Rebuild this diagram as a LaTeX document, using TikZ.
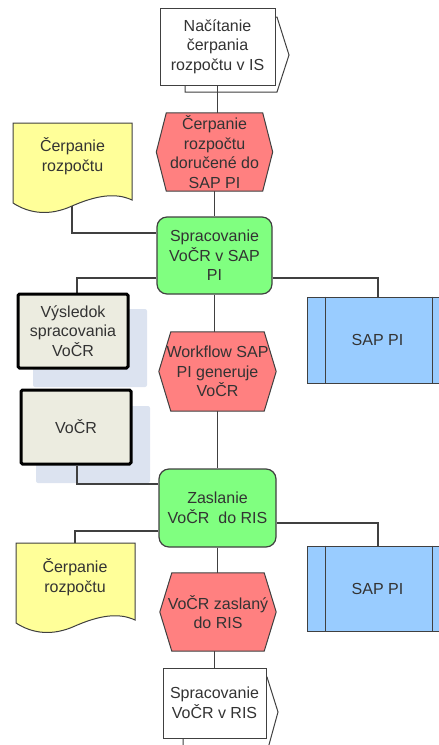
\documentclass[tikz,border=0pt]{standalone}
\usepackage{fontspec}
\setmainfont{Liberation Sans}
\usetikzlibrary{backgrounds}
\definecolor{gfill}{HTML}{80FF80}
\definecolor{rfill}{HTML}{FF8080}
\definecolor{yfill}{HTML}{FFFF99}
\definecolor{bfill}{HTML}{99CCFF}
\definecolor{beige}{HTML}{ECECE0}
\definecolor{shad}{HTML}{DCE3F0}
\definecolor{bord}{HTML}{404040}
\definecolor{txt}{HTML}{333333}
\begin{document}
\begin{tikzpicture}[x=1pt,y=-1pt,
  every node/.style={font=\fontsize{16}{19.5}\selectfont, text=txt, align=center, inner sep=0pt},
  func/.style={draw=bord, line width=1.2pt, fill=gfill, rounded corners=10pt, minimum width=115pt, minimum height=77pt},
  evt/.style={minimum width=116pt, minimum height=78pt},
  hexst/.style={draw=bord, line width=1pt, fill=rfill},
  docst/.style={draw=bord, line width=1pt, fill=yfill},
  iface/.style={draw=bord, line width=1pt, fill=white},
  datbox/.style={draw=black, line width=3pt, fill=beige, rounded corners=1.5pt, minimum width=110pt, minimum height=74pt},
  sysbox/.style={draw=bord, line width=1pt, fill=bfill, minimum width=144pt, minimum height=86pt},
  conn/.style={draw=bord, line width=1.2pt},
  shadowbox/.style={fill=shad, rounded corners=2pt}
]
\useasboundingbox (0,0) rectangle (439,745);
\clip (0,0) rectangle (439,745);

% nodes
\node[iface, minimum width=115pt, minimum height=77pt] (top) at (217.5,46.5) {Načítanie\\čerpania\\rozpočtu v IS};
\node[evt] (hex1) at (214.5,152) {Čerpanie\\rozpočtu\\doručené do\\SAP PI};
\node[minimum width=119pt, minimum height=66pt] (doc1) at (72.5,156) {Čerpanie\\rozpočtu};
\coordinate (doc1w) at (72,206);
\node[func] (green1) at (214.5,255.5) {Spracovanie\\VoČR v SAP\\PI};
\node[datbox] (vysl) at (73,331) {Výsledok\\spracovania\\VoČR};
\node[datbox] (vocr) at (76,427) {VoČR};
\node[evt, minimum width=117pt, minimum height=79pt] (hex2) at (217.5,371.5) {Workflow SAP\\PI generuje\\VoČR};
\node[sysbox] (sap1) at (379,340) {SAP PI\hspace*{3pt}};
\node[func, minimum width=117pt, minimum height=78pt] (green2) at (217.5,508) {Zaslanie\\VoČR\ \ do RIS};
\node[minimum width=118pt, minimum height=68pt] (doc2) at (75,577) {Čerpanie\\rozpočtu};
\node[sysbox, minimum height=85pt] (sap2) at (379,588.5) {SAP PI\hspace*{3pt}};
\node[evt] (hex3) at (218,612) {VoČR zaslaný\\do RIS};
\node[iface, minimum width=103pt, minimum height=70pt] (bottom) at (214.5,703) {Spracovanie\\VoČR v RIS};

% inner lines of system boxes
\foreach \s in {sap1,sap2}{
  \draw[bord, line width=1pt] ([xshift=19pt]\s.north west) -- ([xshift=19pt]\s.south west);
  \draw[bord, line width=1pt] ([xshift=-19pt]\s.north east) -- ([xshift=-19pt]\s.south east);
}

\begin{scope}[on background layer]
  % shadows
  \path[shadowbox] (33,309) rectangle (147,387);
  \path[shadowbox] (36,406) rectangle (150,483);
  % interface back shapes
  \draw[iface] (185,17) -- (277,17) -- (289,55) -- (277,92) -- (185,92) -- cycle;
  \draw[iface] (183,677) -- (267,677) -- (278,712) -- (267,752) -- (183,752) -- cycle;
  % connectors
  \draw[conn] (top.south) -- (top.south |- hex1.north);
  \draw[conn] (hex1.south) -- (green1.north);
  \draw[conn] (doc1w) |- ([yshift=22.5pt]green1.west);
  \draw[conn] ([yshift=-22.5pt]green1.west) -| ([xshift=4pt]vysl.north);
  \draw[conn] ([yshift=-22.5pt]green1.east) -| ([xshift=-1pt]sap1.north);
  \draw[conn] (green1.south) -- (green1.south |- hex2.north);
  \draw[conn] (hex2.south) -- (green2.north);
  \draw[conn] ([xshift=1pt]vocr.south) |- ([yshift=24pt]green2.west);
  \draw[conn] ([yshift=-23pt]green2.west) -| (doc2.north);
  \draw[conn] ([yshift=-15pt]green2.east) -| ([xshift=-1pt]sap2.north);
  \draw[conn] (green2.south) -- (green2.south |- hex3.north);
  \draw[conn] (hex3.south -| bottom.north) -- (bottom.north);
  % hexagons
  \foreach \h/\c in {hex1/10pt,hex2/12pt,hex3/12pt}{
    \draw[hexst] ([xshift=\c]\h.north west) -- ([xshift=-\c]\h.north east) -- (\h.east)
      -- ([xshift=-\c]\h.south east) -- ([xshift=\c]\h.south west) -- (\h.west) -- cycle;
  }
  % documents
  \draw[docst] (13,123) -- (132,123) -- (132,200) .. controls (115,192) and (95,196) .. (72,206)
    .. controls (50,216) and (30,214) .. (13,203) -- cycle;
  \draw[docst, shift={(3,420)}] (13,123) -- (132,123) -- (132,200) .. controls (115,192) and (95,196) .. (72,206)
    .. controls (50,216) and (30,214) .. (13,203) -- cycle;
\end{scope}
\end{tikzpicture}
\end{document}
